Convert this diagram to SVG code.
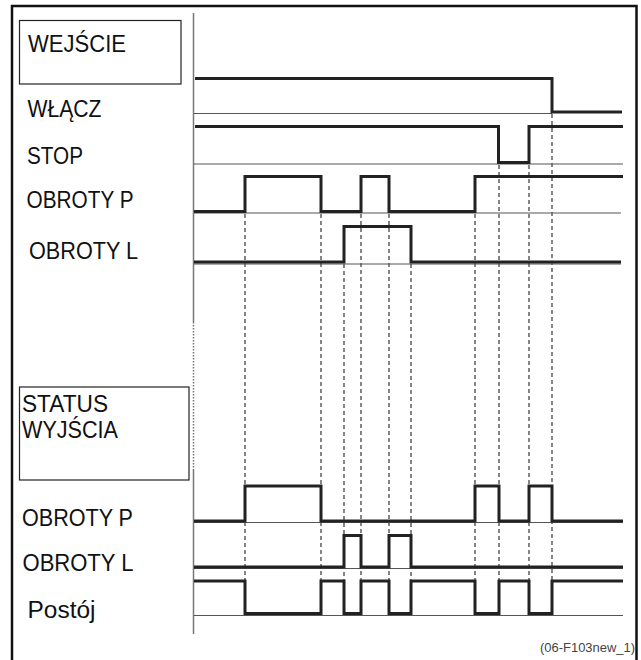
<svg xmlns="http://www.w3.org/2000/svg" width="641" height="660" viewBox="0 0 641 660">
<style>
.lbl{font-family:"Liberation Sans",Arial,sans-serif;font-size:23px;fill:#111}
.box{fill:none;stroke:#222;stroke-width:1.2}
.sig{fill:none;stroke:#222;stroke-width:3;stroke-linejoin:miter;stroke-linecap:butt}
.base{fill:none;stroke:#555;stroke-width:1}
.dash{fill:none;stroke:#222;stroke-width:1.1;stroke-dasharray:4,3}
.axis{fill:none;stroke:#777;stroke-width:1.5}
</style>
<rect x="0" y="0" width="641" height="660" fill="#fff"/>
<rect x="12" y="6" width="624.5" height="670" fill="none" stroke="#111" stroke-width="2.5"/>
<g id="axis">
<line class="axis" x1="193.5" y1="13" x2="193.5" y2="322"/>
<line class="axis" x1="193.5" y1="322" x2="193.5" y2="469" stroke-dasharray="1.5,1.5" stroke="#999"/>
<line class="axis" x1="193.5" y1="469" x2="193.5" y2="634"/>
</g>
<g id="node-wejscie"><rect class="box" x="19.5" y="20.5" width="161.5" height="63.5"/><text class="lbl" x="28" y="52" textLength="98" lengthAdjust="spacingAndGlyphs">WEJŚCIE</text></g>
<g id="node-wlacz"><text class="lbl" x="27.5" y="117" textLength="74" lengthAdjust="spacingAndGlyphs">WŁĄCZ</text></g>
<g id="node-stop"><text class="lbl" x="27" y="164" textLength="56" lengthAdjust="spacingAndGlyphs">STOP</text></g>
<g id="node-obroty-p-in"><text class="lbl" x="26.5" y="208" textLength="107" lengthAdjust="spacingAndGlyphs">OBROTY P</text></g>
<g id="node-obroty-l-in"><text class="lbl" x="29" y="259" textLength="109" lengthAdjust="spacingAndGlyphs">OBROTY L</text></g>
<g id="node-status"><rect class="box" x="19.5" y="387" width="169.5" height="93"/><text class="lbl" x="22" y="412" textLength="86" lengthAdjust="spacingAndGlyphs">STATUS</text><text class="lbl" x="22" y="438" textLength="96" lengthAdjust="spacingAndGlyphs">WYJŚCIA</text></g>
<g id="node-obroty-p-out"><text class="lbl" x="22" y="526" textLength="111" lengthAdjust="spacingAndGlyphs">OBROTY P</text></g>
<g id="node-obroty-l-out"><text class="lbl" x="22.5" y="571" textLength="111" lengthAdjust="spacingAndGlyphs">OBROTY L</text></g>
<g id="node-postoj"><text class="lbl" x="27.5" y="618" textLength="68" lengthAdjust="spacingAndGlyphs">Postój</text></g>
<g id="connectors">
<line class="dash" x1="245" y1="214" x2="245" y2="581"/>
<line class="dash" x1="321" y1="214" x2="321" y2="581"/>
<line class="dash" x1="344" y1="264" x2="344" y2="581"/>
<line class="dash" x1="361" y1="214" x2="361" y2="581"/>
<line class="dash" x1="389" y1="214" x2="389" y2="581"/>
<line class="dash" x1="411" y1="264" x2="411" y2="581"/>
<line class="dash" x1="475" y1="214" x2="475" y2="581"/>
<line class="dash" x1="499" y1="165" x2="499" y2="581"/>
<line class="dash" x1="529" y1="165" x2="529" y2="581"/>
<line class="dash" x1="552" y1="114" x2="552" y2="581"/>
</g>
<g id="baselines">
<line class="base" x1="194" y1="113.5" x2="552" y2="113.5" stroke="#888"/>
<line class="base" x1="194" y1="164" x2="623" y2="164"/>
<line class="base" x1="194" y1="213" x2="621" y2="213"/>
<line class="base" x1="194" y1="264" x2="621" y2="264"/>
<line class="base" x1="194" y1="522.5" x2="623" y2="522.5"/>
<line class="base" x1="194" y1="568.5" x2="623" y2="568.5"/>
<line class="base" x1="194" y1="615.5" x2="623" y2="615.5"/>
</g>
<g id="signals">
<polyline class="sig" points="195,78.5 552,78.5 552,112 622,112"/>
<polyline class="sig" points="195,126.5 498.5,126.5 498.5,162.5 529,162.5 529,126.5 623,126.5"/>
<polyline class="sig" points="194,211.5 245,211.5 245,176.5 321,176.5 321,211.5 361,211.5 361,176.5 389,176.5 389,211.5 475,211.5 475,176.5 623,176.5"/>
<polyline class="sig" points="194,262 344,262 344,226.5 411,226.5 411,262 621,262"/>
<polyline class="sig" points="194,521 245,521 245,486 321,486 321,521 475,521 475,486 499,486 499,521 529,521 529,486 552,486 552,521 623,521"/>
<polyline class="sig" points="194,567 344,567 344,535.5 361,535.5 361,567 389,567 389,535.5 411,535.5 411,567 623,567"/>
<polyline class="sig" points="194,581 245,581 245,613.5 321,613.5 321,581 344,581 344,613.5 361,613.5 361,581 389,581 389,613.5 411,613.5 411,581 475,581 475,613.5 499,613.5 499,581 529,581 529,613.5 552,613.5 552,581 623,581"/>
</g>
<text x="540" y="652" textLength="95" lengthAdjust="spacingAndGlyphs" font-family="Liberation Sans,Arial,sans-serif" font-size="12" fill="#444">(06-F103new_1)</text>
</svg>
